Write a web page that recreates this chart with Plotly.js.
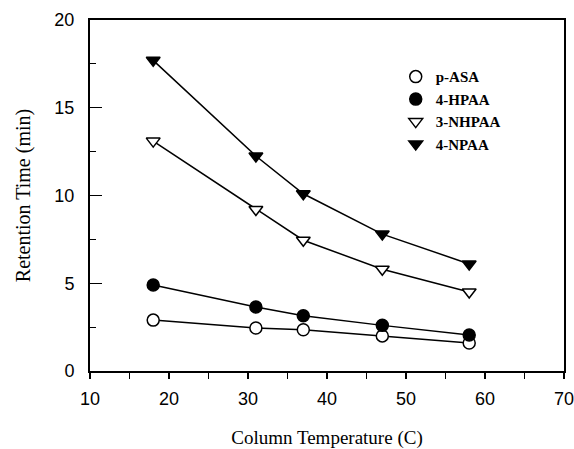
<!DOCTYPE html>
<html>
<head>
<meta charset="utf-8">
<script src="https://cdn.plot.ly/plotly-3.0.1.min.js"></script>
<style>html,body{margin:0;padding:0;background:#fff;}#chart{width:574px;height:449px;}</style>
</head>
<body>
<div id="chart"></div>
<script>
const temperature = [18, 31, 37, 47, 58];
const pASA   = [2.9, 2.45, 2.35, 2.0, 1.6];
const hpaa4  = [4.9, 3.65, 3.15, 2.6, 2.05];
const nhpaa3 = [13.1, 9.2, 7.45, 5.8, 4.5];
const npaa4  = [17.7, 12.25, 10.1, 7.8, 6.1];
const seriesNames = ['p-ASA', '4-HPAA', '3-NHPAA', '4-NPAA'];
const seriesValues = [pASA, hpaa4, nhpaa3, npaa4];
const seriesSymbols = ['circle', 'circle', 'triangle-down', 'triangle-down'];
const seriesFills = ['#fff', '#000', '#fff', '#000'];

const data = [];
// connecting lines (no legend entry)
seriesNames.forEach((n, i) => data.push({
  x: temperature, y: seriesValues[i], name: n, type: 'scatter', mode: 'lines',
  line: {color: '#000', width: 1.5}, showlegend: false, hoverinfo: 'skip'
}));
// markers (legend shows the symbol only)
seriesNames.forEach((n, i) => data.push({
  x: temperature, y: seriesValues[i], name: n, type: 'scatter', mode: 'markers',
  marker: {symbol: seriesSymbols[i], size: 12, color: seriesFills[i], line: {color: '#000', width: 1.5}}
}));

const layout = {
  width: 574, height: 449,
  margin: {l: 90, r: 10, t: 20, b: 78},
  paper_bgcolor: '#fff', plot_bgcolor: '#fff',
  showlegend: true,
  legend: {x: 0.645, y: 0.885, xanchor: 'left', yanchor: 'top',
           bgcolor: 'rgba(0,0,0,0)', tracegroupgap: 0, borderwidth: 0,
           font: {family: 'Liberation Serif', size: 15, color: '#000', weight: 'bold'}},
  xaxis: {
    range: [10, 70], dtick: 10, tick0: 10, showgrid: false, zeroline: false,
    showline: true, linecolor: '#000', linewidth: 2, mirror: true,
    ticks: 'outside', ticklen: 6, tickwidth: 1.2, tickcolor: '#000',
    ticklabelstandoff: 4, ticklabeloverflow: 'allow',
    minor: {dtick: 5, tick0: 10, ticks: 'outside', ticklen: 6, tickwidth: 1.2, tickcolor: '#000', showgrid: false},
    tickfont: {family: 'Liberation Sans', size: 18, color: '#000'},
    title: {text: 'Column Temperature (C)', standoff: 28,
            font: {family: 'Liberation Serif', size: 19, color: '#000'}}
  },
  yaxis: {
    range: [0, 20], dtick: 5, tick0: 0, showgrid: false, zeroline: false,
    showline: true, linecolor: '#000', linewidth: 2, mirror: true,
    ticks: 'inside', ticklen: 12, tickwidth: 1.2, tickcolor: '#000',
    ticklabelstandoff: 10,
    minor: {dtick: 2.5, tick0: 0, ticks: 'inside', ticklen: 6, tickwidth: 1.2, tickcolor: '#000', showgrid: false},
    tickfont: {family: 'Liberation Sans', size: 18, color: '#000'},
    title: {text: 'Retention Time (min)', standoff: 18,
            font: {family: 'Liberation Serif', size: 20, color: '#000'}}
  }
};
Plotly.newPlot('chart', data, layout, {displayModeBar: false, staticPlot: true});
</script>
</body>
</html>
